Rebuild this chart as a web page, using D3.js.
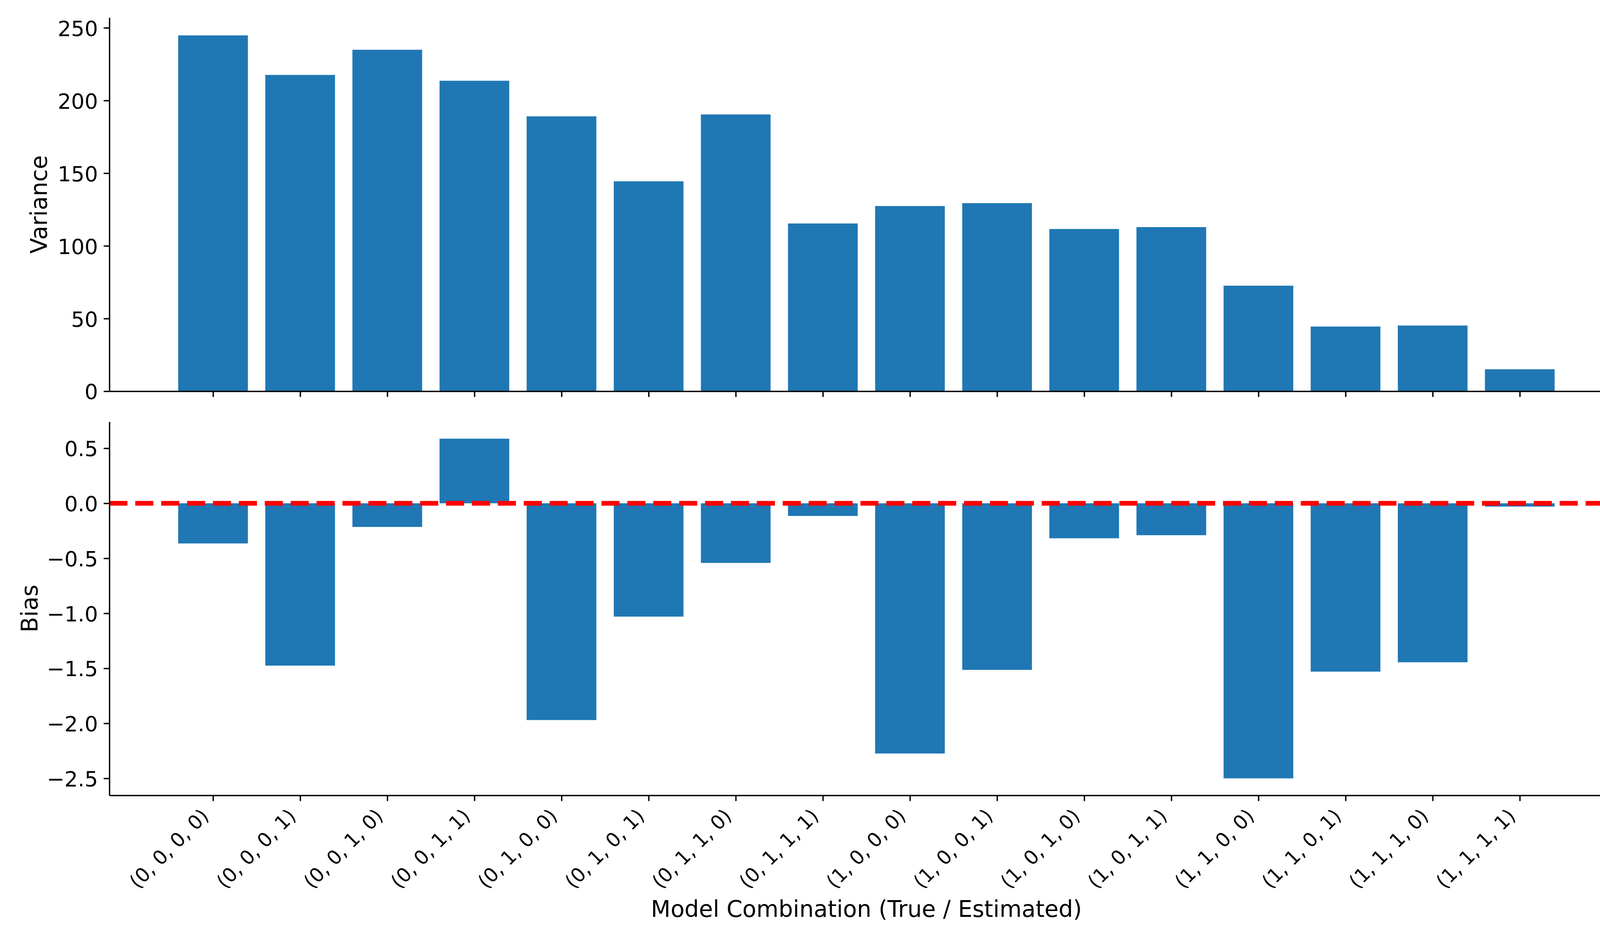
<!DOCTYPE html>
<html>
<head>
<meta charset="utf-8">
<script src="https://cdn.jsdelivr.net/npm/d3@7"></script>
<style>
  body { margin: 0; background: #fff; }
  text { font-family: "DejaVu Sans", sans-serif; fill: #000; }
</style>
</head>
<body>
<div id="chart"></div>
<script>
// variance and bias for each true/estimated model combination

let combos = ["(0, 0, 0, 0)", "(0, 0, 0, 1)", "(0, 0, 1, 0)", "(0, 0, 1, 1)",
              "(0, 1, 0, 0)", "(0, 1, 0, 1)", "(0, 1, 1, 0)", "(0, 1, 1, 1)",
              "(1, 0, 0, 0)", "(1, 0, 0, 1)", "(1, 0, 1, 0)", "(1, 0, 1, 1)",
              "(1, 1, 0, 0)", "(1, 1, 0, 1)", "(1, 1, 1, 0)", "(1, 1, 1, 1)"]

let variance = [244.8, 217.6, 234.9, 213.6, 189.1, 144.4, 190.4, 115.4,
                127.4, 129.4, 111.6, 112.9, 72.6, 44.5, 45.2, 15.1]

let bias = [-0.365, -1.475, -0.215, 0.587, -1.97, -1.03, -0.542, -0.115,
            -2.274, -1.514, -0.318, -0.29, -2.5, -1.53, -1.445, -0.03]

let varianceTicks = [0, 50, 100, 150, 200, 250]
let biasTicks = [-2.5, -2.0, -1.5, -1.0, -0.5, 0.0, 0.5]

let width = 4200
let height = 2400
let left = 280
let right = 4156
let top1 = 45, bottom1 = 1001
let top2 = 1079, bottom2 = 2035
let tickLen = 14.6
let barColor = "#1f77b4"

let svg = d3.select("#chart")
  .append("svg")
  .attr("width", width)
  .attr("height", height)

svg.append("rect").attr("width", width).attr("height", height).attr("fill", "#fff")

// shared x scale, matplotlib style 5% margins around the bars
let xScale = d3.scaleLinear()
               .domain([-0.4 - 0.79, 15.4 + 0.79])
               .range([left, right])
let barW = xScale(0.8) - xScale(0)

let yVar = d3.scaleLinear()
             .domain([0, d3.max(variance) * 1.05])
             .range([bottom1, top1])

let bMin = d3.min(bias), bMax = d3.max(bias)
let bPad = (bMax - bMin) * 0.05
let yBias = d3.scaleLinear()
              .domain([bMin - bPad, bMax + bPad])
              .range([bottom2, top2])

function styleAxis(g, fontSize) {
  g.selectAll("path.domain").attr("stroke", "#000").attr("stroke-width", 3.5)
  g.selectAll(".tick line").attr("stroke", "#000").attr("stroke-width", 3.5)
  g.selectAll("text").attr("font-size", fontSize).attr("font-family", "DejaVu Sans").attr("fill", "#000")
}

// ---- top panel: variance
svg.append("g")
   .selectAll("rect")
   .data(variance)
   .enter()
   .append("rect")
   .attr("x", (d, i) => xScale(i - 0.4))
   .attr("y", d => yVar(d))
   .attr("width", barW)
   .attr("height", d => yVar(0) - yVar(d))
   .attr("fill", barColor)

let yAxis1 = svg.append("g")
   .attr("transform", `translate(${left},0)`)
   .call(d3.axisLeft(yVar).tickValues(varianceTicks).tickSize(tickLen).tickPadding(tickLen).tickSizeOuter(0))
styleAxis(yAxis1, 54)
yAxis1.selectAll("text").attr("dy", "0.37em")

let xAxis1 = svg.append("g")
   .attr("transform", `translate(0,${bottom1})`)
   .call(d3.axisBottom(xScale).tickValues(d3.range(16)).tickFormat("").tickSize(tickLen).tickSizeOuter(0))
styleAxis(xAxis1, 50)

svg.append("text")
   .attr("transform", `translate(120,${(top1 + bottom1) / 2}) rotate(-90)`)
   .attr("text-anchor", "middle")
   .attr("font-size", 58.3)
   .text("Variance")

// ---- bottom panel: bias
svg.append("g")
   .selectAll("rect")
   .data(bias)
   .enter()
   .append("rect")
   .attr("x", (d, i) => xScale(i - 0.4))
   .attr("y", d => yBias(Math.max(d, 0)))
   .attr("width", barW)
   .attr("height", d => Math.abs(yBias(d) - yBias(0)))
   .attr("fill", barColor)

// zero reference line
svg.append("line")
   .attr("x1", left).attr("x2", right)
   .attr("y1", yBias(0)).attr("y2", yBias(0))
   .attr("stroke", "#ff0000")
   .attr("stroke-width", 12)
   .attr("stroke-dasharray", "46.3,20")

let yAxis2 = svg.append("g")
   .attr("transform", `translate(${left},0)`)
   .call(d3.axisLeft(yBias).tickValues(biasTicks).tickFormat(d3.format(".1f")).tickSize(tickLen).tickPadding(tickLen).tickSizeOuter(0))
styleAxis(yAxis2, 54)
yAxis2.selectAll("text").attr("dy", "0.37em")

let xAxis2 = svg.append("g")
   .attr("transform", `translate(0,${bottom2})`)
   .call(d3.axisBottom(xScale).tickValues(d3.range(16)).tickFormat(i => combos[i]).tickSize(tickLen).tickSizeOuter(0))
styleAxis(xAxis2, 50)
xAxis2.selectAll("text")
   .attr("text-anchor", "end")
   .attr("dy", null)
   .attr("x", -8.5)
   .attr("y", 56)
   .attr("transform", "rotate(-45,-8.5,56)")

svg.append("text")
   .attr("transform", `translate(96,${(top2 + bottom2) / 2}) rotate(-90)`)
   .attr("text-anchor", "middle")
   .attr("font-size", 58.3)
   .text("Bias")

svg.append("text")
   .attr("x", (left + right) / 2)
   .attr("y", 2346)
   .attr("text-anchor", "middle")
   .attr("font-size", 58.3)
   .text("Model Combination (True / Estimated)")
</script>
</body>
</html>
